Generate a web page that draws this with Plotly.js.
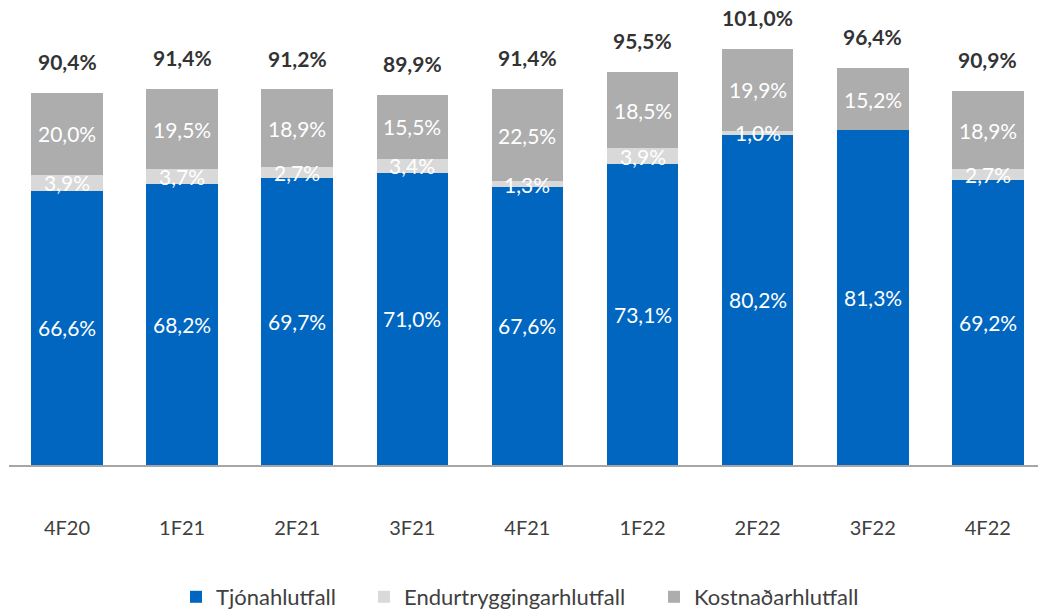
<!DOCTYPE html>
<html>
<head>
<meta charset="utf-8">
<script src="https://cdn.plot.ly/plotly-3.0.1.min.js"></script>
<style>
html,body{margin:0;padding:0;background:#fff;}
#chart{width:1038px;height:613px;}
</style>
</head>
<body>
<div id="chart"></div>
<script>
// ---- data ----
var categories = ['4F20','1F21','2F21','3F21','4F21','1F22','2F22','3F22','4F22'];
var tjonahlutfall = [66.6, 68.2, 69.7, 71.0, 67.6, 73.1, 80.2, 81.3, 69.2];
var endurtryggingarhlutfall = [3.9, 3.7, 2.7, 3.4, 1.3, 3.9, 1.0, null, 2.7];
var kostnadarhlutfall = [20.0, 19.5, 18.9, 15.5, 22.5, 18.5, 19.9, 15.2, 18.9];
var totals = [90.4, 91.4, 91.2, 89.9, 91.4, 95.5, 101.0, 96.4, 90.9];
var seriesNames = ['Tjónahlutfall', 'Endurtryggingarhlutfall', 'Kostnaðarhlutfall'];

// ---- styles ----
var colors = ['#0066C0', '#D9D9D9', '#ADADAD'];
var FONT = 'Lato, "Open Sans", sans-serif';

function fmt(v){ return v.toFixed(1).replace('.', ',') + '%'; }

var series = [tjonahlutfall, endurtryggingarhlutfall, kostnadarhlutfall];
var legendIds = ['legend', 'legend2', 'legend3'];
var traces = series.map(function(vals, i){
  return {
    type: 'bar',
    name: seriesNames[i],
    x: categories,
    y: vals.map(function(v){ return v === null ? 0 : v; }),
    marker: {color: colors[i], line: {width: 0}},
    hoverinfo: 'skip',
    legend: legendIds[i]
  };
});

var annotations = [];
categories.forEach(function(c, j){
  var base = 0;
  series.forEach(function(vals){
    var v = vals[j];
    if (v !== null && v !== undefined) {
      annotations.push({
        x: c, y: base + v / 2, xref: 'x', yref: 'y',
        text: fmt(v), showarrow: false,
        font: {family: FONT, size: 21, color: '#FFFFFF'},
        xanchor: 'center', yanchor: 'middle'
      });
      base += v;
    }
  });
  annotations.push({
    x: c, y: totals[j], xref: 'x', yref: 'y',
    text: '<b>' + fmt(totals[j]) + '</b>', showarrow: false,
    font: {family: FONT, size: 21, color: '#333333'},
    xanchor: 'center', yanchor: 'bottom', yshift: 17
  });
});

function legendAt(xpx){
  return {
    orientation: 'h', x: (xpx - 9) / 1029, xanchor: 'left',
    y: -(597 - 465) / 465, yanchor: 'middle',
    font: {family: FONT, size: 22, color: '#404040'},
    bgcolor: 'rgba(0,0,0,0)', borderwidth: 0, itemclick: false
  };
}

var layout = {
  width: 1038, height: 613,
  margin: {l: 9, r: 0, t: 0, b: 148, autoexpand: false},
  paper_bgcolor: '#FFFFFF', plot_bgcolor: '#FFFFFF',
  barmode: 'stack', bargap: 0.378,
  showlegend: true,
  xaxis: {
    type: 'category', range: [-0.504, 8.436],
    showline: true, linecolor: '#A6A6A6', linewidth: 1.5,
    showgrid: false, zeroline: false, ticks: '',
    ticklabelstandoff: 44,
    tickfont: {family: FONT, size: 20, color: '#404040'}
  },
  yaxis: {
    range: [0, 113], visible: false, showgrid: false, zeroline: false
  },
  legend: legendAt(176),
  legend2: legendAt(364),
  legend3: legendAt(654),
  annotations: annotations
};

Plotly.newPlot('chart', traces, layout, {displayModeBar: false, staticPlot: true});
</script>
</body>
</html>
